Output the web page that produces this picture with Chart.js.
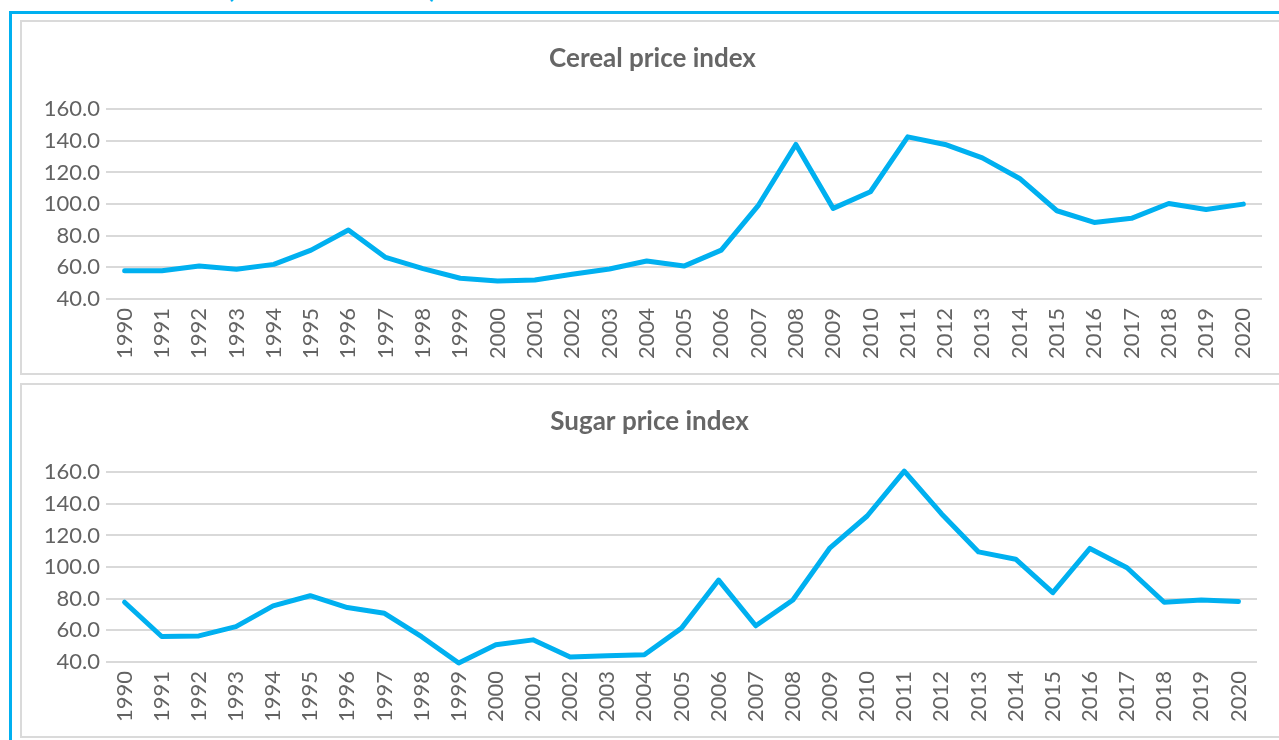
<!DOCTYPE html>
<html>
<head>
<meta charset="utf-8">
<script src="https://cdn.jsdelivr.net/npm/chart.js@4.4.1/dist/chart.umd.min.js"></script>
<style>
  body { margin: 0; background: #fff; width: 1279px; height: 740px; overflow: hidden; position: relative; font-family: Lato, sans-serif; }
  .cut { position: absolute; left: 0; top: 0; width: 1279px; height: 11px; overflow: hidden; }
  .cut span { position: absolute; left: 227px; top: -24px; font-size: 25px; line-height: 25px; font-weight: bold; color: #00B0F0; white-space: nowrap; }
  .frame { position: absolute; left: 9px; top: 11px; width: 1300px; height: 760px; border: 3px solid #00B0F0; }
  .box { position: absolute; left: 20px; width: 1300px; height: 351px; border: 2px solid #dadada; }
  canvas { position: absolute; left: 22px; }
</style>
</head>
<body>
<div class="cut"><span>(2014-2016 = 100)</span></div>
<div class="frame"></div>
<div class="box" style="top:20px"></div>
<div class="box" style="top:383px"></div>
<canvas id="cereal" width="1257" height="351" style="top:22px"></canvas>
<canvas id="sugar" width="1257" height="351" style="top:385px"></canvas>
<script>
const years = ['1990', '1991', '1992', '1993', '1994', '1995', '1996', '1997', '1998', '1999',
    '2000', '2001', '2002', '2003', '2004', '2005', '2006', '2007', '2008', '2009',
    '2010', '2011', '2012', '2013', '2014', '2015', '2016', '2017', '2018', '2019', '2020'];
const cereal = [57.9, 57.8, 60.8, 58.8, 61.9, 70.9, 83.6, 66.3, 59.2, 53.1,
    51.4, 52.0, 55.6, 59.0, 64.0, 60.8, 70.9, 99.4, 137.7, 97.3,
    107.8, 142.5, 137.7, 129.2, 116.2, 95.8, 88.4, 91.0, 100.4, 96.6, 100.0];
const sugar = [77.8, 56.1, 56.5, 62.4, 75.5, 81.9, 74.4, 70.8, 56.0, 39.4,
    50.9, 54.0, 43.1, 44.0, 44.6, 61.4, 91.8, 62.9, 79.2, 112.2,
    132.3, 160.7, 133.8, 109.6, 105.0, 83.8, 111.8, 99.6, 77.8, 79.2, 78.2];
const yTicks = [40, 60, 80, 100, 120, 140, 160];

const textGray = '#636363';

function makeChart(id, title, values, rightPad) {
    const ctx = document.getElementById(id).getContext('2d');
    return new Chart(ctx, {
        type: 'line',
        data: {
            labels: years,
            datasets: [{
                label: title,
                data: values,
                borderColor: '#00B0F0',
                borderWidth: 5,
                pointRadius: 0,
                tension: 0,
                borderJoinStyle: 'round',
                borderCapStyle: 'round',
                clip: 10
            }]
        },
        options: {
            responsive: false,
            animation: false,
            layout: { padding: { left: 20, right: rightPad, top: 0, bottom: 0 } },
            plugins: {
                legend: { display: false },
                tooltip: { enabled: false },
                title: {
                    display: true,
                    text: title,
                    color: '#666',
                    font: { family: 'Lato', size: 26, weight: 'bold', lineHeight: 1.2 },
                    padding: { top: 21, bottom: 35 }
                }
            },
            scales: {
                x: {
                    offset: true,
                    grid: { display: false, drawTicks: false },
                    border: { display: false },
                    ticks: {
                        autoSkip: false,
                        minRotation: 90,
                        maxRotation: 90,
                        padding: 9,
                        color: textGray,
                        font: { family: 'Lato', size: 22 }
                    },
                    afterFit: scale => { scale.height = 74; }
                },
                y: {
                    min: yTicks[0],
                    max: yTicks[yTicks.length - 1],
                    afterBuildTicks: scale => { scale.ticks = yTicks.map(v => ({ value: v })); },
                    grid: { color: '#d9d9d9', lineWidth: 2, drawTicks: false },
                    border: { display: false },
                    ticks: {
                        padding: 6,
                        color: textGray,
                        font: { family: 'Lato', size: 22 },
                        callback: v => v.toFixed(1)
                    },
                    afterFit: scale => { scale.width = 64; }
                }
            }
        }
    });
}

makeChart('cereal', 'Cereal price index', cereal, 16);
makeChart('sugar', 'Sugar price index', sugar, 22);
</script>
</body>
</html>
